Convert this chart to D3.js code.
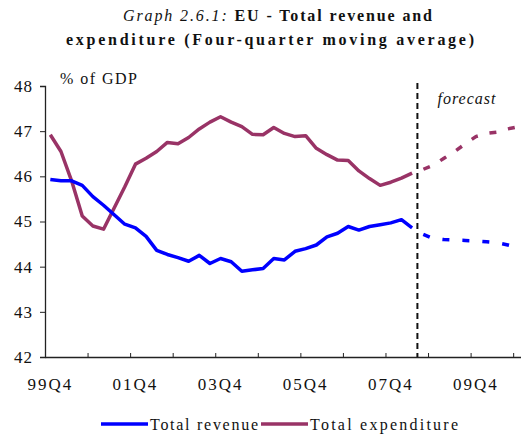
<!DOCTYPE html>
<html>
<head>
<meta charset="utf-8">
<script src="https://cdn.jsdelivr.net/npm/d3@7"></script>
<style>
  body { margin: 0; background: #fff; }
  svg { display: block; font-family: "Liberation Serif", "Times New Roman", serif; }
</style>
</head>
<body>
<div id="chart"></div>
<script>
// quarters 99Q4 .. 10Q4
const quarters = [
  '99Q4',
  '00Q1', '00Q2', '00Q3', '00Q4', '01Q1', '01Q2', '01Q3', '01Q4',
  '02Q1', '02Q2', '02Q3', '02Q4', '03Q1', '03Q2', '03Q3', '03Q4',
  '04Q1', '04Q2', '04Q3', '04Q4', '05Q1', '05Q2', '05Q3', '05Q4',
  '06Q1', '06Q2', '06Q3', '06Q4', '07Q1', '07Q2', '07Q3', '07Q4',
  '08Q1', '08Q2', '08Q3', '08Q4', '09Q1', '09Q2', '09Q3', '09Q4',
  '10Q1', '10Q2', '10Q3', '10Q4'
];
const xTickLabels = ['99Q4', '01Q4', '03Q4', '05Q4', '07Q4', '09Q4'];
const yTicks = [42, 43, 44, 45, 46, 47, 48];

// outturn, 99Q4 .. 08Q2
const revenueActual = [
  45.93, 45.90, 45.90, 45.80, 45.55, 45.36, 45.15, 44.94, 44.86, 44.67,
  44.36, 44.27, 44.20, 44.12, 44.25, 44.07, 44.18, 44.11, 43.90, 43.93,
  43.96, 44.18, 44.15, 44.34, 44.40, 44.48, 44.66, 44.74, 44.89, 44.81,
  44.89, 44.93, 44.97, 45.04, 44.86
];
const expenditureActual = [
  46.92, 46.55, 45.90, 45.12, 44.90, 44.83, 45.30, 45.77, 46.27, 46.40,
  46.55, 46.75, 46.72, 46.86, 47.05, 47.20, 47.32, 47.20, 47.10, 46.93,
  46.92, 47.08, 46.95, 46.88, 46.90, 46.62, 46.48, 46.36, 46.35, 46.12,
  45.95, 45.80, 45.87, 45.96, 46.07
];
// forecast, 08Q2 .. 10Q4 (joined at the last outturn)
const revenueForecast = [44.86, 44.72, 44.62, 44.60, 44.59, 44.58, 44.57, 44.55, 44.53, 44.48, 44.42];
const expenditureForecast = [46.07, 46.15, 46.25, 46.40, 46.55, 46.72, 46.88, 46.95, 46.98, 47.05, 47.10];

const W = 521, H = 434;
const plotLeft = 45, plotTop = 86, plotBottom = 357;
const step = 10.64;
const blue = '#0000ff', plum = '#993366';

const svg = d3.select('#chart').append('svg')
  .attr('width', W)
  .attr('height', H);

// Title
const t1 = svg.append('text').attr('x', 123).attr('y', 21).attr('font-size', 16).attr('fill', '#111');
t1.append('tspan').attr('font-style', 'italic').text('Graph 2.6.1:  ');
t1.append('tspan').attr('font-weight', 'bold').text('EU - Total revenue and');
t1.attr('textLength', 309).attr('lengthAdjust', 'spacing');
svg.append('text')
  .attr('x', 66).attr('y', 45)
  .attr('font-size', 16).attr('font-weight', 'bold').attr('fill', '#111')
  .attr('textLength', 408).attr('lengthAdjust', 'spacing')
  .text('expenditure (Four-quarter moving average)');

// Scales
const x = d3.scaleBand()
  .domain(quarters)
  .range([plotLeft, plotLeft + quarters.length * step])
  .padding(0);
const xc = q => x(q) + x.bandwidth() / 2;
const xi = d3.scaleLinear()
  .domain([0, quarters.length])
  .range([plotLeft, plotLeft + quarters.length * step]);
const y = d3.scaleLinear().domain([42, 48]).range([plotBottom, plotTop]);

// Y axis
const yAxis = svg.append('g')
  .attr('transform', `translate(${plotLeft},0)`)
  .call(d3.axisLeft(y).tickValues(yTicks).tickSize(5).tickPadding(7).tickFormat(d3.format('d')));
yAxis.select('.domain').attr('stroke', '#222').attr('stroke-width', 1.3);
yAxis.selectAll('.tick line').attr('stroke', '#222');
yAxis.selectAll('text')
  .attr('font-size', 17).attr('fill', '#111')
  .attr('font-family', '"Liberation Serif", serif')
  .attr('letter-spacing', 1);

// X axis (tick marks between groups of four quarters)
const xAxis = svg.append('g')
  .attr('transform', `translate(0,${plotBottom})`)
  .call(d3.axisBottom(xi)
    .tickValues(d3.range(4, quarters.length, 4))
    .tickSizeInner(-4).tickSizeOuter(0)
    .tickFormat(''));
xAxis.select('.domain').attr('stroke', '#222').attr('stroke-width', 1.3);
xAxis.selectAll('.tick line').attr('stroke', '#222');

svg.append('g').selectAll('text')
  .data(xTickLabels)
  .enter()
  .append('text')
  .attr('x', d => xc(d))
  .attr('y', 390)
  .attr('text-anchor', 'middle')
  .attr('font-size', 17)
  .attr('letter-spacing', 2)
  .attr('fill', '#111')
  .text(d => d);

// Axis caption
svg.append('text')
  .attr('x', 60).attr('y', 84)
  .attr('font-size', 16).attr('fill', '#111')
  .attr('textLength', 77).attr('lengthAdjust', 'spacing')
  .text('% of GDP');

// Lines
const line = d3.line()
  .x(d => xc(d.q))
  .y(d => y(d.v));

const toPoints = (vals, offset) => vals.map((v, i) => ({ q: quarters[i + offset], v }));
const forecastStart = revenueActual.length - 1;

svg.append('path')
  .attr('d', line(toPoints(expenditureActual, 0)))
  .attr('fill', 'none').attr('stroke', plum).attr('stroke-width', 3.5)
  .attr('stroke-linejoin', 'round');
svg.append('path')
  .attr('d', line(toPoints(revenueActual, 0)))
  .attr('fill', 'none').attr('stroke', blue).attr('stroke-width', 3.5)
  .attr('stroke-linejoin', 'round');

svg.append('path')
  .attr('d', line(toPoints(expenditureForecast, forecastStart)))
  .attr('fill', 'none').attr('stroke', plum).attr('stroke-width', 3.5)
  .attr('stroke-dasharray', '7,12').attr('stroke-dashoffset', 7);
svg.append('path')
  .attr('d', line(toPoints(revenueForecast, forecastStart)))
  .attr('fill', 'none').attr('stroke', blue).attr('stroke-width', 3.5)
  .attr('stroke-dasharray', '7,13').attr('stroke-dashoffset', 7);

// Forecast divider
const divX = x(quarters[revenueActual.length]);
svg.append('line')
  .attr('x1', divX).attr('x2', divX)
  .attr('y1', 83).attr('y2', plotBottom)
  .attr('stroke', '#111').attr('stroke-width', 2)
  .attr('stroke-dasharray', '6,4');

svg.append('text')
  .attr('x', 467).attr('y', 104)
  .attr('text-anchor', 'middle')
  .attr('font-size', 16).attr('font-style', 'italic').attr('fill', '#111')
  .attr('letter-spacing', 1)
  .text('forecast');

// Legend
const legend = [
  { name: 'Total revenue', color: blue, x: 101, w: 108 },
  { name: 'Total expenditure', color: plum, x: 261, w: 148 }
];
const lg = svg.append('g').selectAll('g')
  .data(legend)
  .enter()
  .append('g')
  .attr('transform', d => `translate(${d.x},424)`);
lg.append('line')
  .attr('x1', 0).attr('x2', 47)
  .attr('stroke', d => d.color).attr('stroke-width', 3.5);
lg.append('text')
  .attr('x', 49).attr('y', 6)
  .attr('font-size', 16).attr('fill', '#111')
  .attr('textLength', d => d.w).attr('lengthAdjust', 'spacing')
  .text(d => d.name);
</script>
</body>
</html>
